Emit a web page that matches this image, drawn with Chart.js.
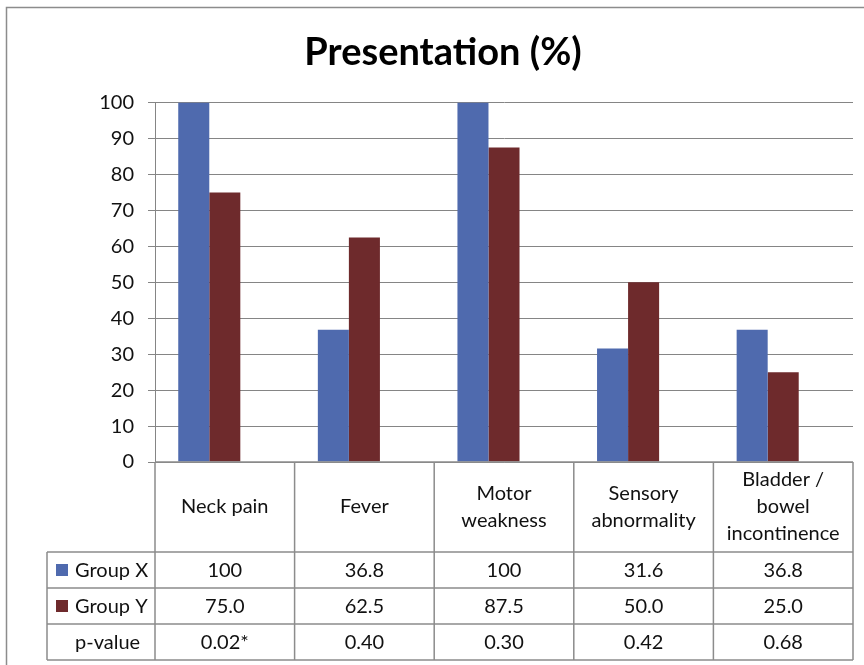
<!DOCTYPE html>
<html>
<head>
<meta charset="utf-8">
<script src="https://cdn.jsdelivr.net/npm/chart.js@4.4.1/dist/chart.umd.min.js"></script>
<style>
  html, body { margin: 0; padding: 0; background: #fff; }
  #wrap { width: 864px; height: 665px; position: relative; }
</style>
</head>
<body>
<div id="wrap"><canvas id="presChart"></canvas></div>
<script>
// chart data
const categories = [['Neck pain'], ['Fever'], ['Motor', 'weakness'], ['Sensory', 'abnormality'], ['Bladder /', 'bowel', 'incontinence']];
const groupX = [100, 36.8, 100, 31.6, 36.8];
const groupY = [75.0, 62.5, 87.5, 50.0, 25.0];
const pValues = [0.02, 0.40, 0.30, 0.42, 0.68];
const pLabels = ['0.02*', '0.40', '0.30', '0.42', '0.68'];
const yTicks = [0, 10, 20, 30, 40, 50, 60, 70, 80, 90, 100];

const FONT = 'Lato, "Open Sans", sans-serif';
const LINE = '#8c8c8c';

function fmt(v) {
    return v === 100 ? '100' : v.toFixed(1);
}

// draws the outer frame
const framePlugin = {
    id: 'frame',
    beforeDraw(chart) {
        const ctx = chart.ctx;
        ctx.save();
        ctx.strokeStyle = LINE;
        ctx.lineWidth = 1.5;
        ctx.strokeRect(6.5, 7.5, 900, 700);
        ctx.restore();
    }
};

// data table under the plot, aligned to the x scale
const tablePlugin = {
    id: 'dataTable',
    afterDraw(chart) {
        const ctx = chart.ctx;
        const xs = chart.scales.x;
        const area = chart.chartArea;
        const n = categories.length;
        const half = (xs.getPixelForValue(1) - xs.getPixelForValue(0)) / 2;
        const edges = [];
        for (let i = 0; i < n; i++) edges.push(xs.getPixelForValue(i) - half);
        edges.push(xs.getPixelForValue(n - 1) + half);

        const top = area.bottom;
        const headH = 90, rowH = 36;
        const rowTops = [top + headH, top + headH + rowH, top + headH + rowH * 2];
        const bottom = top + headH + rowH * 3;
        const left = 47;

        ctx.save();
        ctx.strokeStyle = LINE;
        ctx.lineWidth = 1.5;
        ctx.beginPath();
        ctx.moveTo(edges[0], top); ctx.lineTo(edges[n], top);
        rowTops.concat([bottom]).forEach(y => { ctx.moveTo(left, y); ctx.lineTo(edges[n], y); });
        edges.forEach(x => { ctx.moveTo(x, top); ctx.lineTo(x, bottom); });
        ctx.moveTo(left, rowTops[0]); ctx.lineTo(left, bottom);
        ctx.stroke();

        ctx.fillStyle = '#111';
        ctx.font = '20px ' + FONT;
        ctx.textAlign = 'center';
        ctx.textBaseline = 'middle';

        // header labels
        const lh = 27;
        categories.forEach((lines, i) => {
            const cx = xs.getPixelForValue(i);
            const y0 = top + headH / 2 - (lines.length - 1) * lh / 2;
            lines.forEach((t, k) => ctx.fillText(t, cx, y0 + k * lh));
        });

        // rows
        const rows = [
            { name: 'Group X', color: '#4f6aae', vals: groupX.map(fmt) },
            { name: 'Group Y', color: '#6e2a2c', vals: groupY.map(fmt) },
            { name: 'p-value', color: null, vals: pLabels }
        ];
        rows.forEach((r, ri) => {
            const cy = rowTops[ri] + rowH / 2;
            if (r.color) {
                ctx.fillStyle = r.color;
                ctx.fillRect(56, cy - 6, 12, 12);
            }
            ctx.fillStyle = '#111';
            ctx.textAlign = 'left';
            ctx.fillText(r.name, 75, cy + 1);
            ctx.textAlign = 'center';
            r.vals.forEach((v, i) => ctx.fillText(v, xs.getPixelForValue(i), cy + 1));
        });
        ctx.restore();
    }
};

new Chart(document.getElementById('presChart'), {
    type: 'bar',
    data: {
        labels: categories,
        datasets: [{
            label: 'Group X',
            data: groupX,
            backgroundColor: '#4f6aae',
            categoryPercentage: 0.667,
            barPercentage: 1.0
        }, {
            label: 'Group Y',
            data: groupY,
            backgroundColor: '#6e2a2c',
            categoryPercentage: 0.667,
            barPercentage: 1.0
        }, {
            // p-values are a series too, far too small to show as bars
            label: 'p-value',
            data: pValues,
            backgroundColor: 'rgba(0,0,0,0)',
            categoryPercentage: 0.667,
            barPercentage: 1.0
        }]
    },
    options: {
        responsive: true,
        maintainAspectRatio: false,
        animation: false,
        layout: {
            padding: { left: 33, right: 11, top: 0, bottom: 203 }
        },
        plugins: {
            legend: { display: false },
            tooltip: { enabled: false },
            title: {
                display: true,
                text: 'Presentation (%)',
                color: '#000',
                font: { family: FONT, size: 38, weight: 'bold', lineHeight: 1.2 },
                padding: { top: 30, bottom: 27 }
            }
        },
        scales: {
            x: {
                afterFit: s => { s.height = 0; },
                grid: { display: false },
                border: { display: false },
                ticks: { display: false }
            },
            y: {
                min: 0,
                max: 100,
                afterBuildTicks: s => { s.ticks = yTicks.map(v => ({ value: v })); },
                afterFit: s => { s.width = 122; },
                grid: { color: '#858585', lineWidth: 1, tickLength: 7 },
                border: { color: '#858585', width: 1 },
                ticks: {
                    color: '#111',
                    padding: 14,
                    font: { family: FONT, size: 20 }
                }
            }
        }
    },
    plugins: [framePlugin, tablePlugin]
});
</script>
</body>
</html>
